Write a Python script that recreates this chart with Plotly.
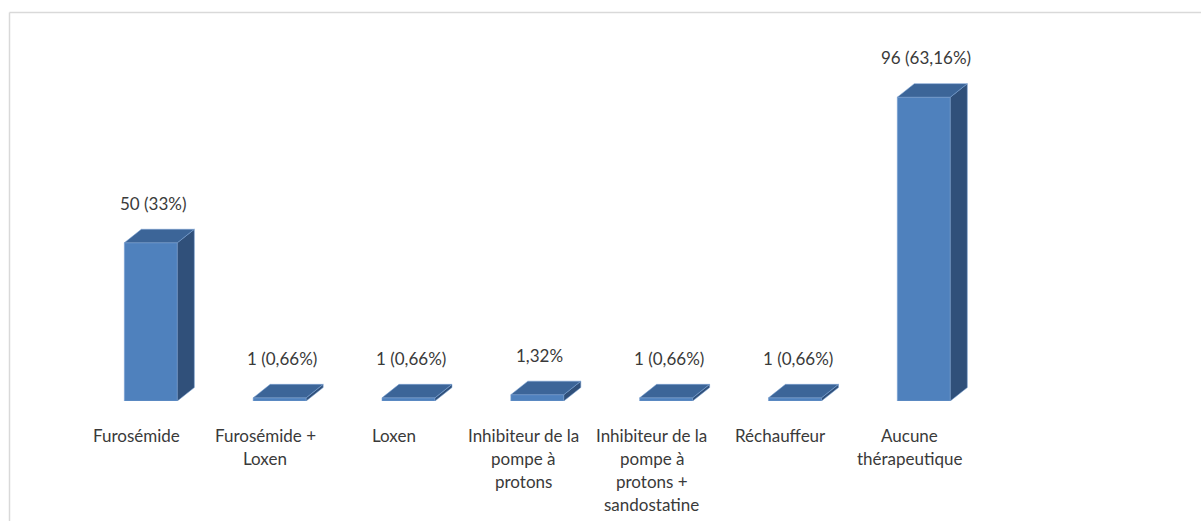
import plotly.graph_objects as go

# ---- data ----
categories = [
    "Furosémide",
    "Furosémide +<br>Loxen",
    "Loxen",
    "Inhibiteur de la<br>pompe à<br>protons",
    "Inhibiteur de la<br>pompe à<br>protons +<br>sandostatine",
    "Réchauffeur",
    "Aucune<br>thérapeutique",
]
values = [50, 1, 1, 2, 1, 1, 96]
value_labels = ["50 (33%)", "1 (0,66%)", "1 (0,66%)", "1,32%", "1 (0,66%)", "1 (0,66%)", "96 (63,16%)"]

# ---- layout geometry ----
W, H = 1201, 521
ML, MR, MT, MB = 22, 110, 32, 120
PX_PER_X = 128.83
PX_PER_Y = 3.165
plot_w = W - ML - MR
plot_h = H - MT - MB
x_range = [-1, -1 + plot_w / PX_PER_X]
y_range = [0, plot_h / PX_PER_Y]

half_w = 26.5 / PX_PER_X      # half width of front face
dx = 17 / PX_PER_X            # depth offset (x)
dy = 13.5 / PX_PER_Y          # depth offset (y)

FRONT = "#4F81BD"
SIDE = "#30507A"
TOP = "#3C6598"
EDGE = "rgba(120,160,210,0.9)"
FONT = "Lato"
TXT = "#3a3a3a"
FS = 17

fig = go.Figure()

def face(xs, ys, color):
    fig.add_trace(go.Scatter(
        x=xs + [xs[0]], y=ys + [ys[0]], mode="lines", fill="toself",
        fillcolor=color, line=dict(color=EDGE, width=0.6),
        hoverinfo="skip", showlegend=False))

for i, v in enumerate(values):
    x0, x1 = i - half_w, i + half_w
    # front
    face([x0, x1, x1, x0], [0, 0, v, v], FRONT)
    # right side
    face([x1, x1 + dx, x1 + dx, x1], [0, dy, v + dy, v], SIDE)
    # top
    face([x0, x1, x1 + dx, x0 + dx], [v, v, v + dy, v + dy], TOP)

annotations = []
for i, (v, lab) in enumerate(zip(values, value_labels)):
    annotations.append(dict(
        x=i + 0.02, y=v + dy, xref="x", yref="y", text=lab, showarrow=False,
        yshift=26, yanchor="middle", xanchor="center",
        font=dict(family=FONT, size=FS, color=TXT)))

for i, cat in enumerate(categories):
    for k, line in enumerate(cat.split("<br>")):
        annotations.append(dict(
            x=i - 0.11, y=0, xref="x", yref="y", text=line, showarrow=False,
            yshift=-34 - 23 * k, yanchor="middle", xanchor="center",
            font=dict(family=FONT, size=FS, color=TXT)))

def px_to_paper_x(px):
    return (px - ML) / plot_w

def py_to_paper_y(py):
    return (H - MB - py) / plot_h

shapes = [
    dict(type="line", xref="paper", yref="paper",
         x0=px_to_paper_x(9.5), x1=px_to_paper_x(W + 5),
         y0=py_to_paper_y(12.5), y1=py_to_paper_y(12.5),
         line=dict(color="#d9d9d9", width=1.5)),
    dict(type="line", xref="paper", yref="paper",
         x0=px_to_paper_x(9.5), x1=px_to_paper_x(9.5),
         y0=py_to_paper_y(12.5), y1=py_to_paper_y(H + 5),
         line=dict(color="#d9d9d9", width=1.5)),
]

fig.update_layout(
    width=W, height=H,
    margin=dict(l=ML, r=MR, t=MT, b=MB, pad=0),
    paper_bgcolor="white", plot_bgcolor="white",
    xaxis=dict(range=x_range, visible=False, fixedrange=True),
    yaxis=dict(range=y_range, visible=False, fixedrange=True),
    annotations=annotations, shapes=shapes,
    showlegend=False,
)

fig.write_html("out.html", config={"displayModeBar": False},
               post_script="document.body.style.margin='0';")
